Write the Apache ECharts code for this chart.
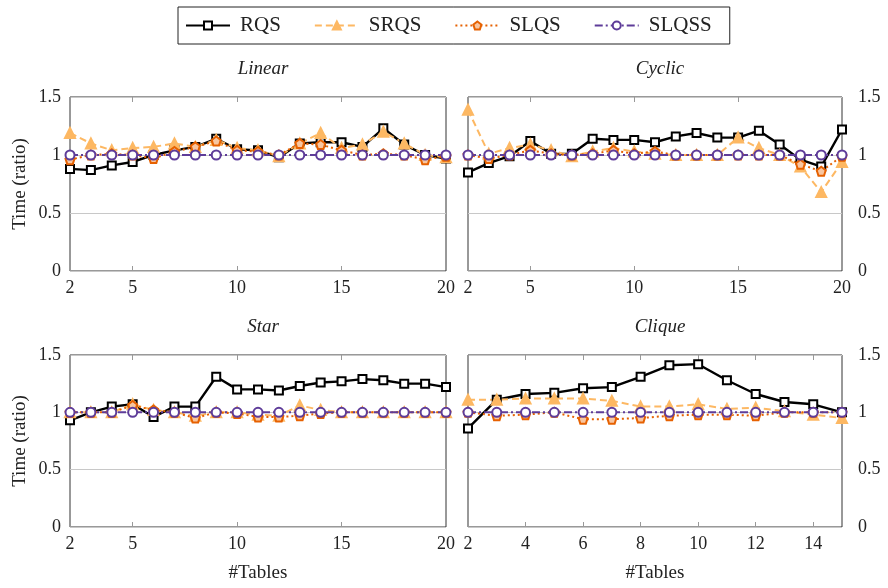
<!DOCTYPE html>
<html>
<head>
<meta charset="utf-8">
<title>Time ratio by #Tables</title>
<script src="https://cdn.jsdelivr.net/npm/echarts@6/dist/echarts.min.js"></script>
<style>
  html, body { margin: 0; padding: 0; background: #fff; }
  #chart { width: 888px; height: 588px; }
</style>
</head>
<body>
<div id="chart"></div>
<script>
// x values (#Tables)
var tablesLong = [2, 3, 4, 5, 6, 7, 8, 9, 10, 11, 12, 13, 14, 15, 16, 17, 18, 19, 20];
var tablesClique = [2, 3, 4, 5, 6, 7, 8, 9, 10, 11, 12, 13, 14, 15];

// Linear
var linearRQS   = [0.88, 0.87, 0.91, 0.94, 1.00, 1.04, 1.07, 1.14, 1.05, 1.04, 0.98, 1.10, 1.11, 1.11, 1.07, 1.23, 1.09, 1.00, 0.97];
var linearSRQS  = [1.19, 1.10, 1.04, 1.06, 1.07, 1.10, 1.07, 1.13, 1.06, 1.04, 0.99, 1.10, 1.19, 1.06, 1.09, 1.20, 1.10, 1.00, 0.98];
var linearSLQS  = [0.96, 1.00, 1.01, 1.00, 0.97, 1.03, 1.07, 1.12, 1.04, 1.03, 1.00, 1.10, 1.09, 1.04, 1.00, 1.01, 1.00, 0.96, 0.99];
var linearSLQSS = [1.00, 1.00, 1.00, 1.00, 1.00, 1.00, 1.00, 1.00, 1.00, 1.00, 1.00, 1.00, 1.00, 1.00, 1.00, 1.00, 1.00, 1.00, 1.00];

// Cyclic
var cyclicRQS   = [0.85, 0.93, 0.99, 1.12, 1.01, 1.01, 1.14, 1.13, 1.13, 1.11, 1.16, 1.19, 1.15, 1.15, 1.21, 1.09, 0.96, 0.90, 1.22];
var cyclicSRQS  = [1.39, 1.01, 1.06, 1.09, 1.04, 0.99, 1.03, 1.06, 1.03, 1.01, 1.00, 1.00, 1.00, 1.15, 1.06, 1.00, 0.90, 0.68, 0.94];
var cyclicSLQS  = [1.00, 0.97, 1.00, 1.04, 1.01, 1.00, 1.01, 1.04, 1.01, 1.03, 1.00, 1.00, 1.00, 1.00, 1.00, 1.00, 0.92, 0.86, 0.99];
var cyclicSLQSS = [1.00, 1.00, 1.00, 1.00, 1.00, 1.00, 1.00, 1.00, 1.00, 1.00, 1.00, 1.00, 1.00, 1.00, 1.00, 1.00, 1.00, 1.00, 1.00];

// Star
var starRQS   = [0.93, 1.00, 1.05, 1.07, 0.96, 1.05, 1.05, 1.31, 1.20, 1.20, 1.19, 1.23, 1.26, 1.27, 1.29, 1.28, 1.25, 1.25, 1.22];
var starSRQS  = [1.00, 1.00, 1.00, 1.07, 1.02, 1.00, 0.97, 1.00, 1.00, 0.98, 0.97, 1.06, 1.02, 1.00, 1.00, 1.00, 1.00, 1.00, 1.00];
var starSLQS  = [1.00, 1.00, 1.00, 1.06, 1.02, 1.00, 0.95, 1.00, 0.99, 0.96, 0.96, 0.97, 0.99, 1.00, 1.00, 1.00, 1.00, 1.00, 1.00];
var starSLQSS = [1.00, 1.00, 1.00, 1.00, 1.00, 1.00, 1.00, 1.00, 1.00, 1.00, 1.00, 1.00, 1.00, 1.00, 1.00, 1.00, 1.00, 1.00, 1.00];

// Clique
var cliqueRQS   = [0.86, 1.11, 1.16, 1.17, 1.21, 1.22, 1.31, 1.41, 1.42, 1.28, 1.16, 1.09, 1.07, 1.00];
var cliqueSRQS  = [1.11, 1.11, 1.12, 1.12, 1.12, 1.10, 1.05, 1.05, 1.07, 1.03, 1.04, 1.01, 0.98, 0.95];
var cliqueSLQS  = [1.00, 0.97, 0.98, 1.00, 0.94, 0.94, 0.95, 0.97, 0.98, 0.98, 0.97, 1.00, 1.00, 1.00];
var cliqueSLQSS = [1.00, 1.00, 1.00, 1.00, 1.00, 1.00, 1.00, 1.00, 1.00, 1.00, 1.00, 1.00, 1.00, 1.00];

var panelTitles = ['Linear', 'Cyclic', 'Star', 'Clique'];
var seriesNames = ['RQS', 'SRQS', 'SLQS', 'SLQSS'];
var xTicksLong = [2, 5, 10, 15, 20];
var xTicksClique = [2, 4, 6, 8, 10, 12, 14];

var FONT = 'Liberation Serif';
var pentagon = 'path://M0,-10 L9.51,-3.09 L5.88,8.09 L-5.88,8.09 L-9.51,-3.09 Z';

// one style per method
var styles = {
  RQS:   { color: '#000000', fill: '#ffffff', symbol: 'rect', size: 8, type: 'solid' },
  SRQS:  { color: '#fdb863', fill: '#fdb863', symbol: 'triangle', size: 10, type: [7, 4] },
  SLQS:  { color: '#e66101', fill: '#f8c6a0', symbol: pentagon, size: 9, type: [2, 3] },
  SLQSS: { color: '#5e3c99', fill: '#ffffff', symbol: 'circle', size: 9, type: [8, 3, 2, 3] }
};

var grids = [
  { left: 70, width: 376, top: 97, height: 174 },
  { left: 468, width: 374, top: 97, height: 174 },
  { left: 70, width: 376, top: 355, height: 172 },
  { left: 468, width: 374, top: 355, height: 172 }
];

var panelData = [
  { xs: tablesLong, max: 20, ticks: xTicksLong, ys: [linearRQS, linearSRQS, linearSLQS, linearSLQSS] },
  { xs: tablesLong, max: 20, ticks: xTicksLong, ys: [cyclicRQS, cyclicSRQS, cyclicSLQS, cyclicSLQSS] },
  { xs: tablesLong, max: 20, ticks: xTicksLong, ys: [starRQS, starSRQS, starSLQS, starSLQSS] },
  { xs: tablesClique, max: 15, ticks: xTicksClique, ys: [cliqueRQS, cliqueSRQS, cliqueSLQS, cliqueSLQSS] }
];

var gridOpts = [], xAxes = [], yAxes = [], titles = [], series = [];

panelData.forEach(function (p, i) {
  var g = grids[i];
  var isLeft = (i % 2 === 0);
  var isBottom = (i >= 2);

  gridOpts.push({
    left: g.left, width: g.width, top: g.top, height: g.height,
    show: true, borderColor: '#333', borderWidth: 1, containLabel: false
  });

  titles.push({
    text: panelTitles[i],
    left: g.left + g.width / 2,
    textAlign: 'center',
    top: g.top - 43,
    textStyle: { fontFamily: FONT, fontStyle: 'italic', fontWeight: 'normal', fontSize: 19, color: '#222' }
  });

  // bottom x axis with labels
  xAxes.push({
    type: 'value', gridIndex: i, min: 2, max: p.max,
    axisLine: { show: false },
    splitLine: { show: false },
    axisTick: { show: true, inside: true, length: 5, customValues: p.ticks, lineStyle: { color: '#999' } },
    axisLabel: { customValues: p.ticks, fontFamily: FONT, fontSize: 18, color: '#222', margin: 8 },
    name: isBottom ? '#Tables' : '',
    nameLocation: 'middle', nameGap: 37,
    nameTextStyle: { fontFamily: FONT, fontSize: 19, color: '#222' }
  });
  // top x axis, ticks only
  xAxes.push({
    type: 'value', gridIndex: i, min: 2, max: p.max, position: 'top',
    axisLine: { show: false },
    splitLine: { show: false },
    axisTick: { show: true, inside: true, length: 5, customValues: p.ticks, lineStyle: { color: '#999' } },
    axisLabel: { show: false }
  });

  yAxes.push({
    type: 'value', gridIndex: i, min: 0, max: 1.5, interval: 0.5,
    position: isLeft ? 'left' : 'right',
    axisLine: { show: false },
    axisTick: { show: false },
    splitLine: { show: true, lineStyle: { color: '#c8c8c8', width: 1 } },
    axisLabel: { fontFamily: FONT, fontSize: 18, color: '#222', margin: isLeft ? 9 : 16 },
    name: isLeft ? 'Time (ratio)' : '',
    nameLocation: 'middle', nameGap: 40,
    nameTextStyle: { fontFamily: FONT, fontSize: 19, color: '#222' }
  });

  seriesNames.forEach(function (name, k) {
    var s = styles[name];
    series.push({
      name: name, type: 'line',
      xAxisIndex: i * 2, yAxisIndex: i,
      data: p.xs.map(function (x, j) { return [x, p.ys[k][j]]; }),
      symbol: s.symbol, symbolSize: s.size, showAllSymbol: true,
      lineStyle: { color: s.color, width: name === 'RQS' ? 2.4 : 2, type: s.type },
      itemStyle: { color: s.fill, borderColor: s.color, borderWidth: 2 },
      animation: false
    });
  });
});

var chart = echarts.init(document.getElementById('chart'), null, { renderer: 'canvas' });
chart.setOption({
  backgroundColor: '#fff',
  animation: false,
  title: titles,
  legend: {
    data: seriesNames,
    top: 7, left: 178,
    padding: [8, 18, 8, 7],
    borderColor: '#222', borderWidth: 1,
    itemWidth: 44, itemHeight: 10, itemGap: 33,
    textStyle: { fontFamily: FONT, fontSize: 21, color: '#222', padding: [0, 0, 0, 5] }
  },
  grid: gridOpts,
  xAxis: xAxes,
  yAxis: yAxes,
  series: series
});
</script>
</body>
</html>
